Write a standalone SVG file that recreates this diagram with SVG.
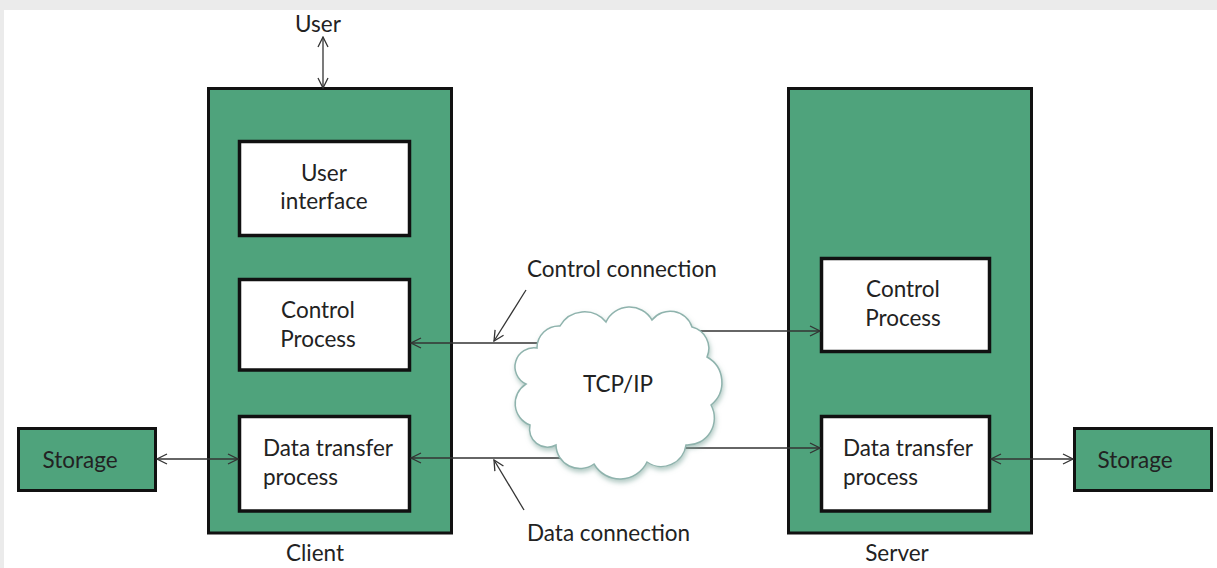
<svg xmlns="http://www.w3.org/2000/svg" width="1217" height="568" viewBox="0 0 1217 568">
<defs>
<style>
.box{fill:#4fa37c;stroke:#111;stroke-width:3}
.inner{fill:#fff;stroke:#111;stroke-width:3.5}
.t{font-family:Lato,"Open Sans","Liberation Sans",sans-serif;font-size:22.5px;fill:#222}
.c{text-anchor:middle}
.ln{stroke:#333;stroke-width:1.3;fill:none}
</style>
<marker id="ah" viewBox="0 0 12 12" markerWidth="12" markerHeight="12" refX="11" refY="6" orient="auto-start-reverse" markerUnits="userSpaceOnUse">
<path d="M1,1 L11,6 L1,11" fill="none" stroke="#333" stroke-width="1.3"/>
</marker>
<filter id="sh" x="-10%" y="-10%" width="120%" height="125%">
<feDropShadow dx="1" dy="3" stdDeviation="2.5" flood-color="#7fa59c" flood-opacity="0.6"/>
</filter>
</defs>
<rect x="0" y="0" width="1217" height="568" fill="#fff"/>
<rect x="0" y="0" width="1217" height="10" fill="#ebebeb"/>
<rect x="0" y="0" width="4" height="568" fill="#ebebeb"/>

<g id="client">
<rect class="box" x="208.5" y="88.5" width="243" height="444.5"/>
<text class="t c" x="315" y="561">Client</text>
</g>
<g id="server">
<rect class="box" x="788.5" y="88.5" width="243" height="444.5"/>
<text class="t c" x="897" y="561">Server</text>
</g>
<g id="user-interface">
<rect class="inner" x="239.5" y="141.5" width="170" height="94"/>
<text class="t c" x="324" y="181">User</text>
<text class="t c" x="324" y="209">interface</text>
</g>
<g id="client-control">
<rect class="inner" x="239.5" y="279.5" width="170" height="90.5"/>
<text class="t c" x="318" y="318">Control</text>
<text class="t c" x="318" y="347">Process</text>
</g>
<g id="client-data">
<rect class="inner" x="239.5" y="416.5" width="170" height="94.5"/>
<text class="t" x="263" y="456">Data transfer</text>
<text class="t" x="263" y="485">process</text>
</g>
<g id="server-control">
<rect class="inner" x="821.5" y="258.5" width="168" height="93"/>
<text class="t c" x="903" y="297">Control</text>
<text class="t c" x="903" y="326">Process</text>
</g>
<g id="server-data">
<rect class="inner" x="821.5" y="416.5" width="168" height="94.5"/>
<text class="t" x="843" y="456">Data transfer</text>
<text class="t" x="843" y="485">process</text>
</g>
<g id="storage-left">
<rect class="box" x="18.5" y="428.5" width="137" height="62"/>
<text class="t c" x="80" y="468">Storage</text>
</g>
<g id="storage-right">
<rect class="box" x="1074.5" y="428.5" width="137" height="62"/>
<text class="t c" x="1135" y="468">Storage</text>
</g>
<g id="user">
<text class="t c" x="318" y="32">User</text>
</g>

<g id="connectors">
<line class="ln" x1="323" y1="37" x2="323" y2="88" marker-start="url(#ah)" marker-end="url(#ah)"/>
<line class="ln" x1="157" y1="459" x2="238" y2="459" marker-start="url(#ah)" marker-end="url(#ah)"/>
<line class="ln" x1="991" y1="459" x2="1073" y2="459" marker-start="url(#ah)" marker-end="url(#ah)"/>
<line class="ln" x1="560" y1="343" x2="411" y2="343" marker-end="url(#ah)"/>
<line class="ln" x1="690" y1="331" x2="820" y2="331" marker-end="url(#ah)"/>
<line class="ln" x1="575" y1="458" x2="411" y2="458" marker-end="url(#ah)"/>
<line class="ln" x1="670" y1="448" x2="820" y2="448" marker-end="url(#ah)"/>
<line class="ln" x1="526" y1="290" x2="494" y2="341" marker-end="url(#ah)"/>
<line class="ln" x1="524" y1="510" x2="494" y2="460" marker-end="url(#ah)"/>
</g>

<g id="tcpip">
<path d="M537,348 A22,22 0 0 1 560,326 A28,28 0 0 1 606,322 A26,26 0 0 1 652,320 A23,23 0 0 1 692,327 A22,22 0 0 1 707,357 A29,29 0 0 1 711,405 A27,27 0 0 1 686,445 A25,25 0 0 1 647,462 A30,30 0 0 1 594,464 A24,24 0 0 1 556,445 A18,18 0 0 1 530,425 A23,23 0 0 1 526,384 A19,19 0 0 1 537,348 Z" fill="#fff" stroke="#8fb3ad" stroke-width="1.5" filter="url(#sh)"/>
<text class="t c" x="618" y="392">TCP/IP</text>
</g>

<g id="labels">
<text class="t" x="527" y="277">Control connection</text>
<text class="t" x="527" y="541">Data connection</text>
</g>
</svg>
